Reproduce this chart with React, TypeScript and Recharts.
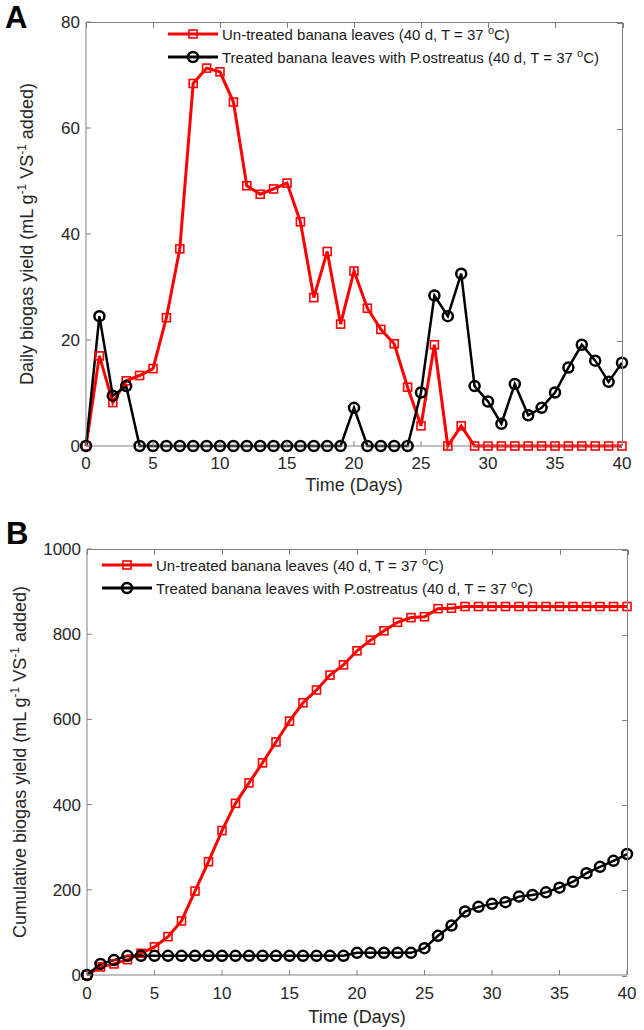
import { Legend, Line, LineChart, XAxis, YAxis } from "recharts";

const days = [
  0, 1, 2, 3, 4, 5, 6, 7, 8, 9, 10, 11, 12, 13, 14, 15, 16, 17, 18, 19, 20,
  21, 22, 23, 24, 25, 26, 27, 28, 29, 30, 31, 32, 33, 34, 35, 36, 37, 38, 39, 40,
];

// Panel A: daily yield (mL g-1 VS-1 added)
const dailyUntreated = [
  0, 17, 8.2, 12.3, 13.3, 14.6, 24.2, 37.2, 68.4, 71.3, 70.6, 64.9, 49.1, 47.5,
  48.5, 49.6, 42.3, 28, 36.7, 23, 33, 26, 22, 19.3, 11.1, 3.8, 19.1, 0, 3.8, 0,
  0, 0, 0, 0, 0, 0, 0, 0, 0, 0, 0,
];
const dailyTreated = [
  0, 24.5, 9.5, 11.3, 0, 0, 0, 0, 0, 0, 0, 0, 0, 0, 0, 0, 0, 0, 0, 0, 7.2, 0, 0,
  0, 0, 10.1, 28.4, 24.5, 32.5, 11.3, 8.4, 4.2, 11.7, 5.8, 7.2, 10.1, 14.8,
  19.1, 16.1, 12.1, 15.7,
];

// Panel B: cumulative yield
const cumUntreated = [
  0, 19, 26, 36, 51, 66, 90, 127, 197, 266, 339, 403, 451, 498, 547, 596, 639,
  669, 704, 728, 761, 786, 808, 828, 839, 841, 860, 861, 865, 865, 865, 865,
  865, 865, 865, 865, 865, 865, 865, 865, 865,
];
const cumTreated = [
  0, 26, 35, 45, 45, 45, 45, 45, 45, 45, 45, 45, 45, 45, 45, 45, 45, 45, 45, 45,
  52, 52, 52, 52, 52, 63, 92, 116, 149, 160, 167, 171, 184, 188, 194, 205, 219,
  239, 254, 268, 284,
];

const xTicks = [0, 5, 10, 15, 20, 25, 30, 35, 40];
const dailyTicks = [0, 20, 40, 60, 80];
const cumTicks = [0, 200, 400, 600, 800, 1000];

const FONT = "Arial, 'Liberation Sans', sans-serif";
const AXIS = "#808080";
const TXT = "#262626";
const RED = "#ff0000";

const dailyData = days.map((d, i) => ({
  day: d,
  untreated: dailyUntreated[i],
  treated: dailyTreated[i],
}));
const cumData = days.map((d, i) => ({
  day: d,
  untreated: cumUntreated[i],
  treated: cumTreated[i],
}));

function BottomTick(props: any) {
  const { x, y, payload, labelGap } = props;
  return (
    <g>
      <line x1={x} x2={x} y1={y} y2={y - 5} stroke={AXIS} />
      <text x={x} y={y + labelGap} dy="0.35em" textAnchor="middle" fontSize={17} fill={TXT} fontFamily={FONT}>
        {payload.value}
      </text>
    </g>
  );
}

function LeftTick(props: any) {
  const { x, y, payload } = props;
  return (
    <g>
      <line x1={x} x2={x + 5} y1={y} y2={y} stroke={AXIS} />
      <text x={x - 6} y={y} dy="0.35em" textAnchor="end" fontSize={17} fill={TXT} fontFamily={FONT}>
        {payload.value}
      </text>
    </g>
  );
}

function Square(props: any) {
  const { cx, cy, index } = props;
  return (
    <rect key={index} x={cx - 4} y={cy - 4} width={8} height={8} fill="none" stroke={RED} strokeWidth={1.6} />
  );
}

function Ring(props: any) {
  const { cx, cy, index } = props;
  return <circle key={index} cx={cx} cy={cy} r={5} fill="none" stroke="#000" strokeWidth={2.5} />;
}

function Sup({ children }: { children: React.ReactNode }) {
  return <tspan baselineShift="super" fontSize={12}>{children}</tspan>;
}

function yTitle(name: string, dx: number) {
  return (props: any) => {
    const vb = props.viewBox;
    const cx = vb.x + dx;
    const cy = vb.y + vb.height / 2;
    return (
      <text
        x={cx}
        y={cy}
        transform={`rotate(-90 ${cx} ${cy})`}
        textAnchor="middle"
        dy="0.35em"
        fontSize={18}
        fill={TXT}
        fontFamily={FONT}
      >
        {name} (mL g<Sup>-1</Sup> VS<Sup>-1</Sup> added)
      </text>
    );
  };
}

function xTitle(gap: number) {
  return (props: any) => {
    const vb = props.viewBox;
    return (
      <text x={vb.x + vb.width / 2} y={vb.y + gap} dy="0.35em" textAnchor="middle" fontSize={18} fill={TXT} fontFamily={FONT}>
        Time (Days)
      </text>
    );
  };
}

// top and right edges of the MATLAB-style box, with inward ticks (HTML overlay on the plot area)
function BoxEdges({ left, top, width, height, yTicks, yMax }: any) {
  return (
    <div
      style={{
        position: "absolute",
        left,
        top,
        width,
        height,
        borderTop: `1px solid ${AXIS}`,
        borderRight: `1px solid ${AXIS}`,
        boxSizing: "border-box",
        pointerEvents: "none",
      }}
    >
      {xTicks.map((t) => (
        <div
          key={"t" + t}
          style={{ position: "absolute", left: (width * t) / 40 - 0.5, top: 0, width: 1, height: 5, background: AXIS }}
        />
      ))}
      {yTicks.map((t: number) => (
        <div
          key={"r" + t}
          style={{ position: "absolute", right: 0, top: height - (height * t) / yMax - 0.5, width: 5, height: 1, background: AXIS }}
        />
      ))}
    </div>
  );
}

function LegendRow({ kind, children }: { kind: "sq" | "ci"; children: React.ReactNode }) {
  return (
    <div style={{ display: "flex", alignItems: "center", height: 23 }}>
      <svg width={50} height={16} style={{ flex: "none" }}>
        {kind === "sq" ? (
          <>
            <line x1={0} x2={50} y1={8} y2={8} stroke={RED} strokeWidth={3} />
            <rect x={21} y={4} width={8} height={8} fill="none" stroke={RED} strokeWidth={1.6} />
          </>
        ) : (
          <>
            <line x1={0} x2={50} y1={8} y2={8} stroke="#000" strokeWidth={3} />
            <circle cx={25} cy={8} r={5} fill="none" stroke="#000" strokeWidth={2.5} />
          </>
        )}
      </svg>
      <span style={{ marginLeft: 4, whiteSpace: "nowrap" }}>{children}</span>
    </div>
  );
}

function LegendBox() {
  const sup = <sup style={{ fontSize: 11 }}>o</sup>;
  return (
    <div style={{ fontFamily: FONT, fontSize: 15, color: "#1a1a1a" }}>
      <LegendRow kind="sq">Un-treated banana leaves (40 d, T = 37 {sup}C)</LegendRow>
      <LegendRow kind="ci">Treated banana leaves with P.ostreatus (40 d, T = 37 {sup}C)</LegendRow>
    </div>
  );
}

function Panel({
  data,
  yTicks,
  yMax,
  yName,
  height,
  margin,
  yWidth,
  legendPos,
  tickGap,
  titleGap,
  titleDx,
}: any) {
  const xAxisH = 40;
  const plotH = height - margin.top - margin.bottom - xAxisH;
  const plotW = 644 - margin.left - margin.right - yWidth;
  return (
    <div style={{ position: "relative", width: 644, height }}>
      <LineChart width={644} height={height} data={data} margin={margin}>
        <XAxis
          dataKey="day"
          type="number"
          domain={[0, 40]}
          ticks={xTicks}
          interval={0}
          height={xAxisH}
          tickSize={0}
          tickMargin={0}
          tickLine={false}
          axisLine={{ stroke: AXIS }}
          tick={<BottomTick labelGap={tickGap} />}
          label={{ content: xTitle(titleGap) }}
        />
        <YAxis
          type="number"
          domain={[0, yMax]}
          ticks={yTicks}
          interval={0}
          width={yWidth}
          tickSize={0}
          tickMargin={0}
          tickLine={false}
          axisLine={{ stroke: AXIS }}
          tick={<LeftTick />}
          label={{ content: yTitle(yName, titleDx) }}
        />
        <Legend
          layout="horizontal"
          verticalAlign="middle"
          align="center"
          content={() => <LegendBox />}
          wrapperStyle={{ left: legendPos.left, top: legendPos.top, width: "auto", height: "auto" }}
        />
        <Line
          dataKey="untreated"
          stroke={RED}
          strokeWidth={3}
          dot={Square}
          activeDot={false}
          isAnimationActive={false}
        />
        <Line
          dataKey="treated"
          stroke="#000"
          strokeWidth={2.5}
          dot={Ring}
          activeDot={false}
          isAnimationActive={false}
        />
      </LineChart>
      <BoxEdges
        left={margin.left + yWidth}
        top={margin.top}
        width={plotW + 1}
        height={plotH}
        yTicks={yTicks}
        yMax={yMax}
      />
    </div>
  );
}

export default function App() {
  return (
    <div style={{ position: "absolute", left: 0, top: 0, width: 644, height: 1030, background: "#fff", fontFamily: FONT }}>
      <div style={{ position: "absolute", left: 0, top: 0 }}>
        <Panel
          data={dailyData}
          yTicks={dailyTicks}
          yMax={80}
          yName="Daily biogas yield"
          height={500}
          margin={{ top: 22, right: 22, left: 0, bottom: 14 }}
          yWidth={86}
          legendPos={{ left: 168, top: 22 }}
          tickGap={17}
          titleGap={39}
          titleDx={27}
        />
      </div>
      <div style={{ position: "absolute", left: 0, top: 500 }}>
        <Panel
          data={cumData}
          yTicks={cumTicks}
          yMax={1000}
          yName="Cumulative biogas yield"
          height={530}
          margin={{ top: 49, right: 17, left: 0, bottom: 15 }}
          yWidth={87}
          legendPos={{ left: 102, top: 53 }}
          tickGap={18}
          titleGap={42}
          titleDx={20}
        />
      </div>
      <div style={{ position: "absolute", left: 5, top: 0, fontSize: 31, fontWeight: "bold", color: "#000" }}>A</div>
      <div style={{ position: "absolute", left: 6, top: 516, fontSize: 31, fontWeight: "bold", color: "#000" }}>B</div>
    </div>
  );
}
